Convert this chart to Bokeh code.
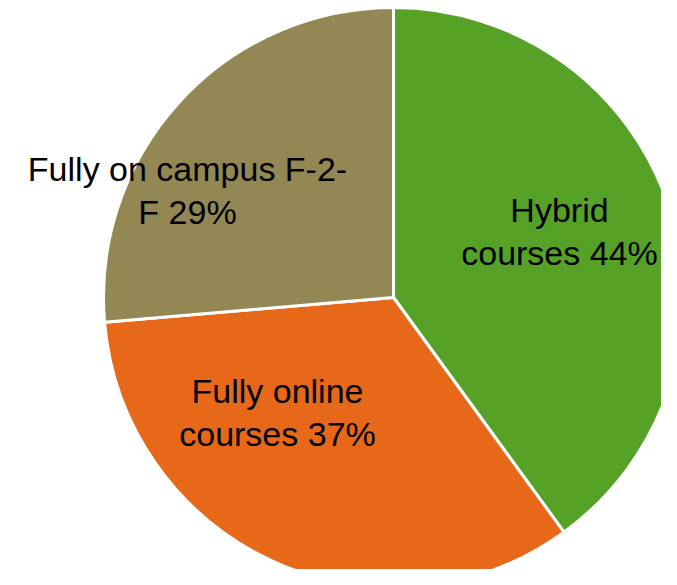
import math
from bokeh.plotting import figure
from bokeh.models import ColumnDataSource, Range1d
from bokeh.core.properties import value
from bokeh.embed import file_html
from bokeh.resources import INLINE

# Data
categories = ["Hybrid courses", "Fully online courses", "Fully on campus F-2-F"]
percents = [44, 37, 29]
labels = ["Hybrid\ncourses 44%", "Fully online\ncourses 37%", "Fully on campus F-2-\nF 29%"]
colors = ["#56A227", "#E8681A", "#938754"]

# Layout (pixel-like data units)
W, H = 661, 569
cx, cy, R = 393, 272, 290
label_x = [559, 277, 187]
label_y = [338, 157, 379]

total = sum(percents)
starts, ends = [], []
cum = 0.0
for v in percents:
    starts.append(math.pi / 2 - cum / total * 2 * math.pi)
    cum += v
    ends.append(math.pi / 2 - cum / total * 2 * math.pi)

src = ColumnDataSource(dict(cat=categories, val=percents, start=starts, end=ends,
                            color=colors, x=[cx] * 3, y=[cy] * 3))
lsrc = ColumnDataSource(dict(text=labels, x=label_x, y=label_y))

p = figure(width=W, height=H, output_backend="svg", toolbar_location=None,
           x_range=Range1d(0, W), y_range=Range1d(0, H), min_border=0)
p.axis.visible = False
p.grid.visible = False
p.outline_line_color = None
p.background_fill_color = "white"
p.border_fill_color = "white"

p.wedge(x="x", y="y", radius=R, start_angle="start", end_angle="end",
        direction="clock", fill_color="color", line_color="white", line_width=3,
        source=src)

p.text(x="x", y="y", text="text", source=lsrc, text_align="center",
       text_baseline="middle", text_font=value("Liberation Sans"),
       text_font_size="34px", text_color="black", text_line_height=1.15)

open("out.html", "w").write(file_html(p, INLINE))
